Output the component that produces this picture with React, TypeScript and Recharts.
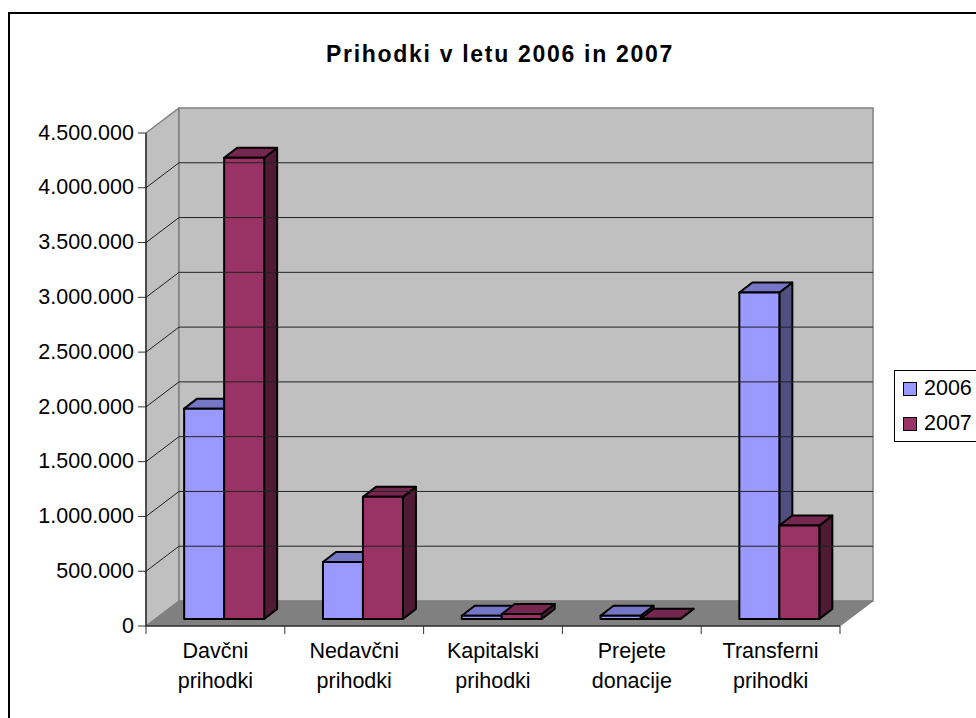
import { BarChart, Bar, XAxis, YAxis, Legend, ReferenceArea, ReferenceLine } from 'recharts';

const categories = ['Davčni prihodki', 'Nedavčni prihodki', 'Kapitalski prihodki', 'Prejete donacije', 'Transferni prihodki'];
const values2006 = [1920000, 520000, 30000, 30000, 2980000];
const values2007 = [4210000, 1115000, 45000, 3000, 853000];
const yTicks = [0, 500000, 1000000, 1500000, 2000000, 2500000, 3000000, 3500000, 4000000, 4500000];

const data = categories.map((name, i) => ({ name, v2006: values2006[i], v2007: values2007[i] }));

const FONT = '"Liberation Sans", Arial, sans-serif';
const WIDTH = 976;
const HEIGHT = 718;
const PLOT_LEFT = 146;
const PLOT_RIGHT = 840;
const PLOT_TOP = 133;
const PLOT_BOTTOM = 626;
const BAND = (PLOT_RIGHT - PLOT_LEFT) / categories.length;

// fake 3D: how far the back wall sits behind the axis plane
const WALL_DX = 33;
const WALL_DY = -25;
// bars stand a little way into the floor
const BAR_DX = 9;
const BAR_DY = -7;
const DEPTH_DX = 13;
const DEPTH_DY = -10;

const formatTick = (v: number) => String(v).replace(/\B(?=(\d{3})+$)/g, '.');

const Walls = ({ x, y, width, height }: any) => {
  const b = y + height;
  const r = x + width;
  const pts = (list: number[][]) => list.map((p) => p.join(',')).join(' ');
  return (
    <g>
      <polygon
        points={pts([[x, y], [x + WALL_DX, y + WALL_DY], [x + WALL_DX, b + WALL_DY], [x, b]])}
        fill="#C0C0C0"
        stroke="#808080"
        strokeWidth={1.5}
      />
      <polygon
        points={pts([[x + WALL_DX, y + WALL_DY], [r + WALL_DX, y + WALL_DY], [r + WALL_DX, b + WALL_DY], [x + WALL_DX, b + WALL_DY]])}
        fill="#C0C0C0"
        stroke="#808080"
        strokeWidth={1.5}
      />
      <polygon
        points={pts([[x, b], [x + WALL_DX, b + WALL_DY], [r + WALL_DX, b + WALL_DY], [r, b]])}
        fill="#808080"
        stroke="#808080"
      />
    </g>
  );
};

const WallGridLine = ({ x1, y1, x2, y2 }: any) => (
  <g stroke="#222" strokeWidth={1}>
    <line x1={x1} y1={y1} x2={x1 + WALL_DX} y2={y1 + WALL_DY} />
    <line x1={x1 + WALL_DX} y1={y1 + WALL_DY} x2={x2 + WALL_DX} y2={y2 + WALL_DY} />
  </g>
);

const Box3D = ({ x, y, width, height, fill, topFill, sideFill }: any) => {
  const l = x + BAR_DX;
  const t = y + BAR_DY;
  const r = l + width;
  const b = t + height;
  const stroke = { stroke: '#000', strokeWidth: 2, strokeLinejoin: 'round' as const };
  return (
    <g>
      <polygon
        points={`${r},${t} ${r + DEPTH_DX},${t + DEPTH_DY} ${r + DEPTH_DX},${b + DEPTH_DY} ${r},${b}`}
        fill={sideFill}
        {...stroke}
      />
      <polygon
        points={`${l},${t} ${l + DEPTH_DX},${t + DEPTH_DY} ${r + DEPTH_DX},${t + DEPTH_DY} ${r},${t}`}
        fill={topFill}
        {...stroke}
      />
      <rect x={l} y={t} width={width} height={height} fill={fill} {...stroke} />
    </g>
  );
};

const CategoryTick = ({ x, y, payload, index }: any) => {
  const [first, second] = String(payload.value).split(' ');
  const edge = x - BAND / 2;
  return (
    <g>
      <line x1={edge} y1={PLOT_BOTTOM} x2={edge} y2={PLOT_BOTTOM + 8} stroke="#333" />
      {index === categories.length - 1 && (
        <line x1={edge + BAND} y1={PLOT_BOTTOM} x2={edge + BAND} y2={PLOT_BOTTOM + 8} stroke="#333" />
      )}
      <text x={x} y={y + 24} textAnchor="middle" fontSize={21.5} fontFamily={FONT} fill="#000">
        <tspan x={x}>{first}</tspan>
        <tspan x={x} dy={30}>{second}</tspan>
      </text>
    </g>
  );
};

const LegendBox = ({ payload }: any) => (
  <div
    style={{
      width: 100,
      height: 72,
      border: '1px solid #000',
      background: '#fff',
      fontFamily: FONT,
      fontSize: 21.5,
      color: '#000',
      boxSizing: 'border-box',
    }}
  >
    {(payload || []).map((item: any) => (
      <div key={item.value} style={{ display: 'flex', alignItems: 'center', height: 35, paddingLeft: 8 }}>
        <span
          style={{
            display: 'inline-block',
            width: 12,
            height: 12,
            background: item.color,
            border: '1.5px solid #000',
            marginRight: 7,
            flexShrink: 0,
          }}
        />
        {item.value}
      </div>
    ))}
  </div>
);

export default function App() {
  return (
    <div style={{ position: 'relative', width: WIDTH, height: HEIGHT, overflow: 'hidden', background: '#fff' }}>
      <style>{'body { margin: 0; }'}</style>
      <div
        style={{
          position: 'absolute',
          left: 8,
          top: 12,
          width: WIDTH + 20,
          height: HEIGHT + 20,
          borderTop: '2px solid #000',
          borderLeft: '2px solid #000',
          boxSizing: 'border-box',
        }}
      />
      <div style={{ position: 'absolute', left: 0, top: 0 }}>
        <BarChart
          width={WIDTH}
          height={HEIGHT}
          data={data}
          margin={{ top: PLOT_TOP, right: WIDTH - PLOT_RIGHT, bottom: 0, left: 0 }}
          barCategoryGap="21%"
          barGap={0}
        >
          <text x={500} y={62} textAnchor="middle" fontSize={23} letterSpacing={1.7} fontWeight="bold" fontFamily={FONT} fill="#000">
            Prihodki v letu 2006 in 2007
          </text>
          <XAxis
            dataKey="name"
            height={HEIGHT - PLOT_BOTTOM}
            axisLine={{ stroke: '#000', strokeWidth: 1 }}
            tickLine={false}
            interval={0}
            tick={<CategoryTick />}
          />
          <YAxis
            width={PLOT_LEFT}
            domain={[0, 4500000]}
            ticks={yTicks}
            interval={0}
            tickFormatter={formatTick}
            tickSize={8}
            tickMargin={4}
            axisLine={{ stroke: '#000', strokeWidth: 1 }}
            tickLine={{ stroke: '#333' }}
            tick={{ fontSize: 21.5, fontFamily: FONT, fill: '#000', dy: -1 }}
          />
          <ReferenceArea x1={categories[0]} x2={categories[4]} y1={0} y2={4500000} shape={<Walls />} ifOverflow="visible" />
          {yTicks.slice(1, -1).map((t) => (
            <ReferenceLine key={t} y={t} shape={<WallGridLine />} />
          ))}
          <Legend
            layout="vertical"
            align="center"
            verticalAlign="middle"
            wrapperStyle={{ left: 894, top: 370, width: 100, height: 72 }}
            content={<LegendBox />}
          />
          <Bar
            dataKey="v2006"
            name="2006"
            fill="#9999FF"
            isAnimationActive={false}
            shape={(p: any) => <Box3D {...p} fill="#9999FF" topFill="#7676C6" sideFill="#4F4F80" />}
          />
          <Bar
            dataKey="v2007"
            name="2007"
            fill="#993366"
            isAnimationActive={false}
            shape={(p: any) => <Box3D {...p} fill="#993366" topFill="#76274F" sideFill="#4F1A33" />}
          />
        </BarChart>
      </div>
    </div>
  );
}
